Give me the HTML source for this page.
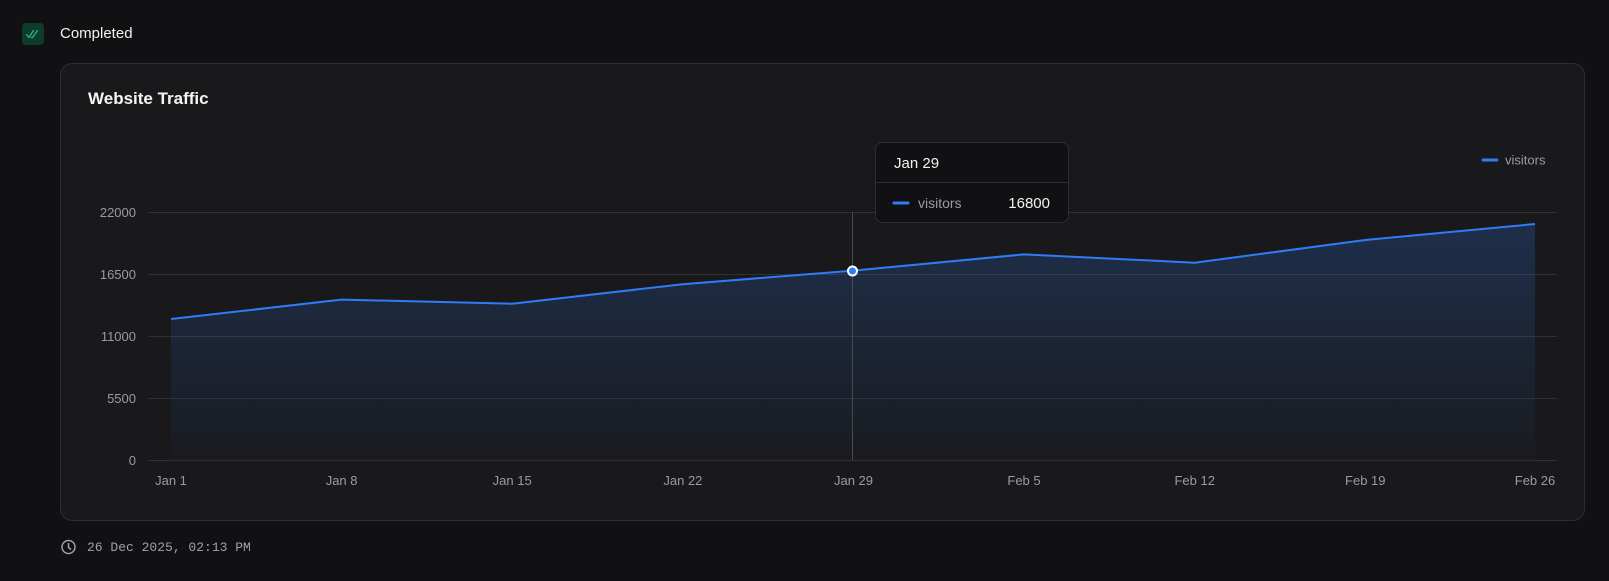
<!DOCTYPE html>
<html><head><meta charset="utf-8"><style>
body{margin:0;width:1609px;height:581px;background:#111113;font-family:"Liberation Sans",sans-serif;overflow:hidden;position:relative}
.abs{position:absolute}
</style></head><body>
<div class="abs" style="left:22px;top:23px;width:22px;height:22px;border-radius:4px;background:#0d3b2c"></div>
<svg class="abs" style="left:22px;top:23px" width="22" height="22"><path d="M4.5 11.5l2.5 3 4.5-7M9.5 14.5l1 0 5-7" stroke="#22c38a" stroke-width="1.2" fill="none" stroke-linecap="round"/></svg>
<div class="abs" style="left:60px;top:25px;color:#f2f2f2;font-size:15px;">Completed</div>
<div class="abs" style="left:60px;top:63px;width:1523px;height:456px;border:1px solid #2e2e31;border-radius:12px;background:#19191b"></div>
<div class="abs" style="left:88px;top:89px;color:#f5f5f5;font-size:17px;font-weight:bold">Website Traffic</div>
<svg class="abs" style="left:0;top:0" width="1609" height="581">
<defs><linearGradient id="g" x1="0" y1="0" x2="0" y2="1"><stop offset="0" stop-color="#2f7cf6" stop-opacity="0.22"/><stop offset="1" stop-color="#2f7cf6" stop-opacity="0.02"/></linearGradient></defs>
<g stroke="#303033" stroke-width="1">
<line x1="148" x2="1557" y1="212.5" y2="212.5"/><line x1="148" x2="1557" y1="274.5" y2="274.5"/><line x1="148" x2="1557" y1="336.5" y2="336.5"/><line x1="148" x2="1557" y1="398.5" y2="398.5"/><line x1="148" x2="1557" y1="460.5" y2="460.5"/>
</g>
<g font-size="13" fill="#9a9aa2" text-anchor="end">
<text x="136" y="217">22000</text><text x="136" y="279">16500</text><text x="136" y="341">11000</text><text x="136" y="403">5500</text><text x="136" y="465">0</text>
</g>
<path d="M171 319 L341.6 299.6 L512.2 303.7 L682.9 284.2 L853.5 270.6 L1024 254.4 L1194.7 262.7 L1365.3 240 L1535 224 L1535 460 L171 460Z" fill="url(#g)"/>
<line x1="852.5" x2="852.5" y1="212" y2="460" stroke="#4a4a4e"/>
<path d="M171 319 L341.6 299.6 L512.2 303.7 L682.9 284.2 L853.5 270.6 L1024 254.4 L1194.7 262.7 L1365.3 240 L1535 224" fill="none" stroke="#2f7cf6" stroke-width="2"/>
<circle cx="852.5" cy="271" r="4.5" fill="#2f7cf6" stroke="#fff" stroke-width="2"/>
<g font-size="13" fill="#9a9aa2" text-anchor="middle">
<text x="171" y="485">Jan 1</text><text x="341.6" y="485">Jan 8</text><text x="512.2" y="485">Jan 15</text><text x="682.9" y="485">Jan 22</text><text x="853.5" y="485">Jan 29</text><text x="1024" y="485">Feb 5</text><text x="1194.7" y="485">Feb 12</text><text x="1365.3" y="485">Feb 19</text><text x="1535" y="485">Feb 26</text>
</g>
<line x1="1483" x2="1497" y1="160" y2="160" stroke="#2f7cf6" stroke-width="3" stroke-linecap="round"/>
<text x="1505" y="164.5" font-size="13" fill="#9a9aa2">visitors</text>
<rect x="875.5" y="142.5" width="193" height="80" rx="7" fill="#111113" stroke="#2e2e31"/>
<line x1="876" x2="1068" y1="182.5" y2="182.5" stroke="#2e2e31"/>
<text x="894" y="168" font-size="15" fill="#f2f2f2">Jan 29</text>
<line x1="894" x2="908" y1="203" y2="203" stroke="#2f7cf6" stroke-width="3" stroke-linecap="round"/>
<text x="918" y="208" font-size="14" fill="#9a9aa2">visitors</text>
<text x="1050" y="208" font-size="15" fill="#f2f2f2" text-anchor="end">16800</text>
<circle cx="68.5" cy="547" r="6.5" fill="none" stroke="#a0a0a6" stroke-width="1.5"/>
<path d="M68.5 543v4.5l2.5 2" stroke="#a0a0a6" stroke-width="1.5" fill="none"/>
<text x="87" y="551" font-size="13" fill="#a0a0a6" font-family="Liberation Mono, monospace">26 Dec 2025, 02:13 PM</text>
</svg>
</body></html>
